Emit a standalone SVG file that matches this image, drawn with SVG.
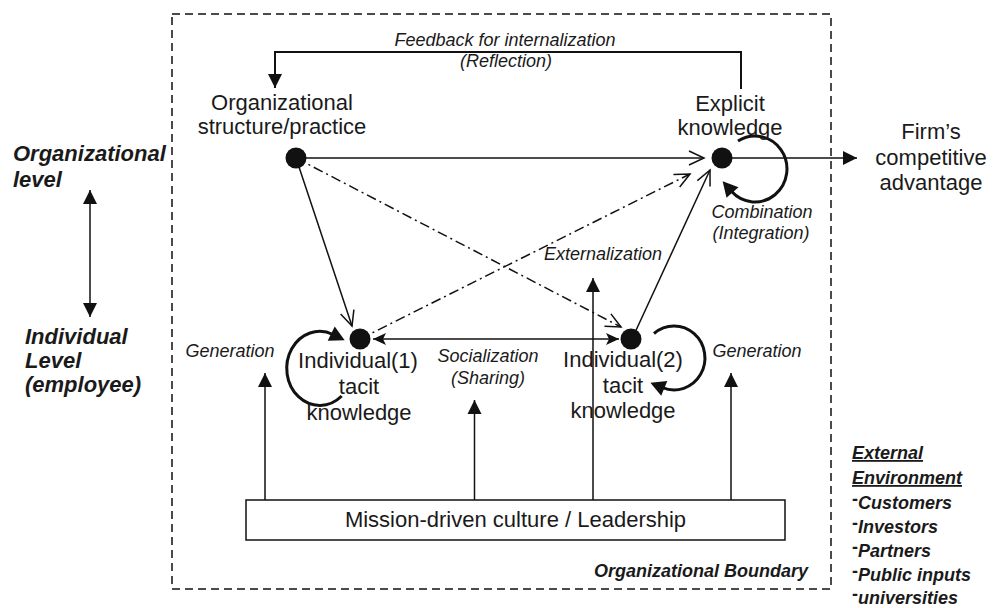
<svg xmlns="http://www.w3.org/2000/svg" width="999" height="608" viewBox="0 0 999 608">
<defs>
<style>
text{font-family:"Liberation Sans",Arial,sans-serif;fill:#1a1a1a}
.n{font-size:22px;text-anchor:middle}
.i{font-size:18px;font-style:italic}
.c{text-anchor:middle}
.bi{font-size:22px;font-weight:bold;font-style:italic}
.ex{font-size:18px;font-weight:bold;font-style:italic}
.dash{font-style:normal;font-weight:bold}
.ln{fill:none;stroke:#111;stroke-width:1.5}
.dd{stroke-dasharray:10 4 2 4}
.loop{fill:none;stroke:#111;stroke-width:3}
.dot{fill:#111}
.bnd{fill:none;stroke:#111;stroke-width:1.5;stroke-dasharray:8 5}
</style>
<marker id="open" markerUnits="userSpaceOnUse" markerWidth="18" markerHeight="16" refX="15" refY="7" orient="auto" overflow="visible"><path d="M0,0 L15,7 L0,14" fill="none" stroke="#111" stroke-width="1.5"/></marker>
<marker id="fill" markerUnits="userSpaceOnUse" markerWidth="16" markerHeight="16" refX="14" refY="7" orient="auto-start-reverse" overflow="visible"><path d="M0,0 L14,7 L0,14 z" fill="#111"/></marker>
<marker id="stealth" markerUnits="userSpaceOnUse" markerWidth="16" markerHeight="14" refX="13" refY="6" orient="auto-start-reverse" overflow="visible"><path d="M0,0 L13,6 L0,12 L3,6 z" fill="#111"/></marker>
<marker id="loophead" markerUnits="userSpaceOnUse" markerWidth="18" markerHeight="18" refX="2" refY="8" orient="auto" overflow="visible"><path d="M0,0 L15,8 L0,16 z" fill="#111"/></marker>
</defs>

<rect id="boundary" class="bnd" x="172" y="14" width="659" height="575"/>

<g id="connectors">
  <path class="ln" style="stroke-width:2" d="M741,89 L741,52 L275,52 L275,88" marker-end="url(#fill)"/>
  <path class="ln" d="M296,158 L704,158" marker-end="url(#open)"/>
  <path class="ln" d="M296,158 L352,326" marker-end="url(#open)"/>
  <path class="ln dd" d="M296,158 L621,327" marker-end="url(#open)"/>
  <path class="ln dd" d="M360,339 L690,174" marker-end="url(#open)"/>
  <path class="ln" d="M632,339 L710,170" marker-end="url(#open)"/>
  <path class="ln" d="M373,339 L619,339" marker-start="url(#stealth)" marker-end="url(#stealth)"/>
  <path class="ln" d="M722,158 L857,158" marker-end="url(#fill)"/>
  <path class="ln" d="M265,500 L265,373" marker-end="url(#fill)"/>
  <path class="ln" d="M474.5,500 L474.5,400" marker-end="url(#fill)"/>
  <path class="ln" d="M731,500 L731,373" marker-end="url(#fill)"/>
  <path class="ln" d="M593,500 L593,278" marker-end="url(#fill)"/>
  <path class="ln" d="M90,190 L90,317" marker-start="url(#fill)" marker-end="url(#fill)"/>
  <path class="loop" d="M738,141 A32,33 0 1 1 731.2,191.1" marker-end="url(#loophead)"/>
  <path class="loop" d="M341.7,396 A33,37 0 1 1 333,334.5" marker-end="url(#loophead)"/>
  <path class="loop" d="M654,333.5 A31,32 0 1 1 662.4,387.7" marker-end="url(#loophead)"/>
</g>

<g id="org">
  <circle class="dot" cx="296" cy="158" r="10.5"/>
  <text class="n" x="282" y="110">Organizational</text>
  <text class="n" x="282" y="134">structure/practice</text>
</g>

<g id="explicit">
  <circle class="dot" cx="722" cy="158" r="10.5"/>
  <text class="n" x="730" y="111">Explicit</text>
  <text class="n" x="730" y="135">knowledge</text>
</g>

<g id="ind1">
  <circle class="dot" cx="360" cy="339" r="10.5"/>
  <text class="n" x="358" y="368">Individual(1)</text>
  <text class="n" x="359" y="394">tacit</text>
  <text class="n" x="359" y="420">knowledge</text>
</g>

<g id="ind2">
  <circle class="dot" cx="631" cy="339" r="10.5"/>
  <text class="n" x="623" y="367">Individual(2)</text>
  <text class="n" x="623" y="393">tacit</text>
  <text class="n" x="623" y="418">knowledge</text>
</g>

<g id="firm">
  <text class="n" x="931" y="139">Firm’s</text>
  <text class="n" x="931" y="165">competitive</text>
  <text class="n" x="931" y="190">advantage</text>
</g>

<g id="mission">
  <rect x="246" y="500" width="539" height="40" fill="#fff" stroke="#111" stroke-width="1.5"/>
  <text class="n" x="515.5" y="527">Mission-driven culture / Leadership</text>
</g>

<g id="labels">
  <text class="i c" x="505" y="46">Feedback for internalization</text>
  <text class="i c" x="506" y="67">(Reflection)</text>
  <text class="i c" x="762" y="218">Combination</text>
  <text class="i c" x="761" y="239">(Integration)</text>
  <text class="i c" x="603" y="260">Externalization</text>
  <text class="i c" x="230" y="357">Generation</text>
  <text class="i c" x="757" y="357">Generation</text>
  <text class="i c" x="488" y="362">Socialization</text>
  <text class="i c" x="488" y="384">(Sharing)</text>
  <text class="ex" x="808" y="577" text-anchor="end">Organizational Boundary</text>
</g>

<g id="levels">
  <text class="bi" x="13" y="161">Organizational</text>
  <text class="bi" x="13" y="187">level</text>
  <text class="bi" x="25" y="344">Individual</text>
  <text class="bi" x="25" y="368">Level</text>
  <text class="bi" x="25" y="392">(employee)</text>
</g>

<g id="external">
  <text class="ex" x="852" y="459" text-decoration="underline">External</text>
  <text class="ex" x="852" y="484" text-decoration="underline">Environment</text>
  <text class="ex" x="852" y="509"><tspan class="dash" dy="-4">-</tspan><tspan dy="4">Customers</tspan></text>
  <text class="ex" x="852" y="533"><tspan class="dash" dy="-4">-</tspan><tspan dy="4">Investors</tspan></text>
  <text class="ex" x="852" y="557"><tspan class="dash" dy="-4">-</tspan><tspan dy="4">Partners</tspan></text>
  <text class="ex" x="852" y="581"><tspan class="dash" dy="-4">-</tspan><tspan dy="4">Public inputs</tspan></text>
  <text class="ex" x="852" y="604"><tspan class="dash" dy="-4">-</tspan><tspan dy="4">universities</tspan></text>
</g>
</svg>
